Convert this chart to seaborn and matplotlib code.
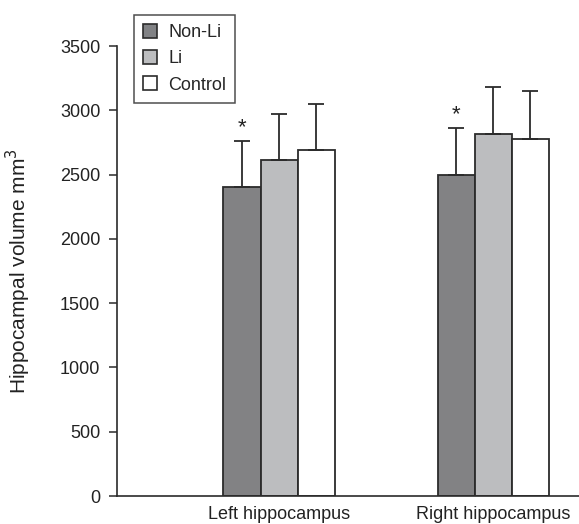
import numpy as np
import pandas as pd
import seaborn as sns
import matplotlib.pyplot as plt
from matplotlib.patches import Patch

regions = ["Left hippocampus", "Right hippocampus"]
groups = ["Non-Li", "Li", "Control"]
nonli_mean = [2400, 2500]
li_mean = [2610, 2815]
control_mean = [2690, 2780]
nonli_sd = [360, 360]
li_sd = [360, 365]
control_sd = [360, 370]
significant = {"Non-Li": [True, True], "Li": [False, False], "Control": [False, False]}

colors = {"Non-Li": "#818285", "Li": "#bcbdbf", "Control": "#ffffff"}
edge = "#2b2b2b"

df = pd.DataFrame({
    "region": regions * 3,
    "group": [g for g in groups for _ in regions],
    "volume": nonli_mean + li_mean + control_mean,
    "sd": nonli_sd + li_sd + control_sd,
})

sns.set_style("ticks")
plt.rcParams["font.family"] = ["Liberation Sans", "DejaVu Sans"]

fig = plt.figure(figsize=(5.79, 5.24), dpi=100)
ax = fig.add_axes([0.202, 0.0534, 0.798, 0.8588])

sns.barplot(data=df, x="region", y="volume", hue="group", order=regions, hue_order=groups,
            palette=colors, width=0.52, gap=0, errorbar=None, edgecolor=edge, linewidth=1.3,
            legend=False, ax=ax)

# upward-only error bars and stars, placed from the drawn bars
for cont, g in zip(ax.containers, groups):
    sub = df[df.group == g].set_index("region").loc[regions]
    for bar, m, s, star in zip(cont, sub.volume, sub.sd, significant[g]):
        xc = bar.get_x() + bar.get_width() / 2
        ax.errorbar(xc, m, yerr=[[0], [s]], fmt="none", ecolor=edge, elinewidth=1.3,
                    capsize=5.8, capthick=1.3, zorder=1)
        if star:
            ax.text(xc, m + s + 25, "*", ha="center", va="bottom", fontsize=16, color="#222")

ax.set_xlim(-0.757, 1.40)
ax.set_ylim(0, 3500)
ax.set_yticks(np.arange(0, 3501, 500))
ax.set_xlabel("")
ax.set_ylabel("Hippocampal volume mm$^3$", fontsize=15, color="#222")
ax.yaxis.set_label_coords(-0.182, 0.5)
ax.tick_params(axis="y", length=6, width=1.1, pad=6, labelsize=13, color=edge, labelcolor="#222")
ax.tick_params(axis="x", length=0, pad=7, labelsize=13, labelcolor="#222")
sns.despine(ax=ax)
for sp in ["left", "bottom"]:
    ax.spines[sp].set_color(edge)
    ax.spines[sp].set_linewidth(1.2)

handles = [Patch(facecolor=colors[g], edgecolor=edge, linewidth=1.2, label=g) for g in groups]
leg = fig.legend(handles=handles, loc="upper left", bbox_to_anchor=(0.2314, 0.9714), fontsize=13,
                 frameon=True, fancybox=False, edgecolor="#222", handlelength=0.8, handleheight=0.8,
                 handletextpad=0.6, borderpad=0.5, labelspacing=0.5, borderaxespad=0)
leg.get_frame().set_linewidth(1.1)

fig.savefig("out.png", dpi=100)
